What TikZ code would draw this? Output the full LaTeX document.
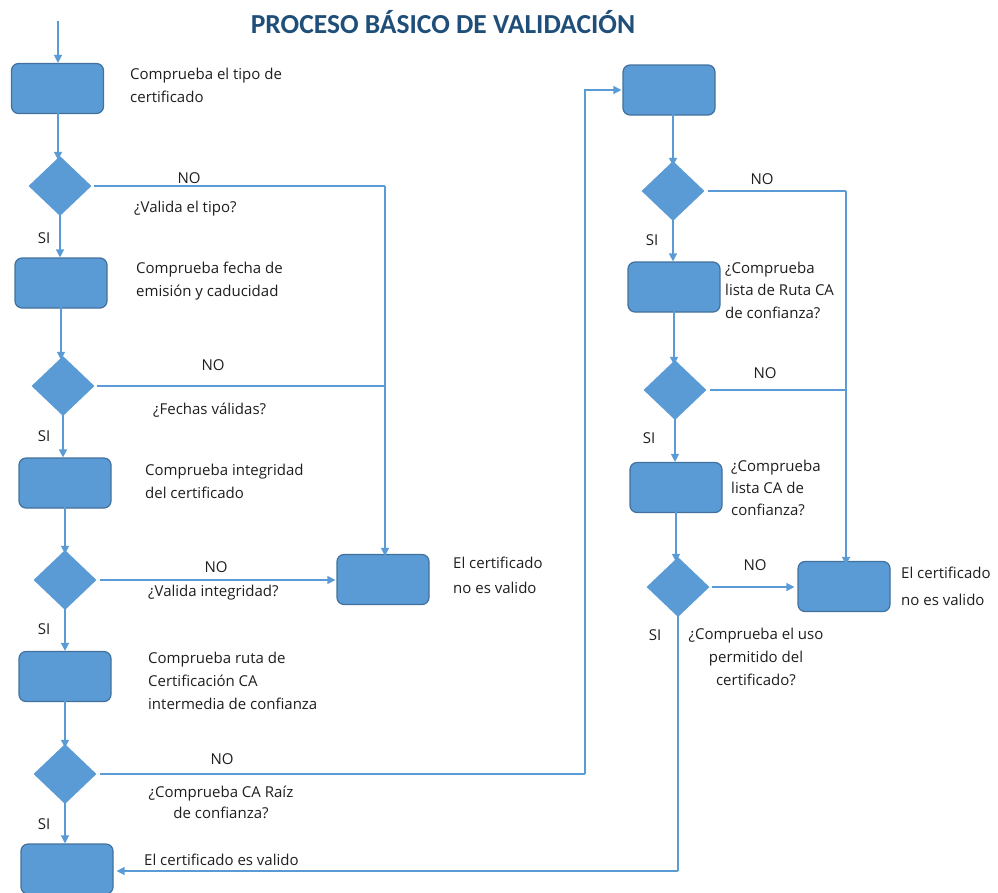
\documentclass[tikz,border=0pt]{standalone}
\usepackage{fontspec}
\setmainfont{Open Sans}
\newfontfamily\titlefont{Carlito}
\usetikzlibrary{shapes.geometric,arrows.meta}
\definecolor{boxfill}{HTML}{5B9BD5}
\definecolor{boxline}{HTML}{41719C}
\definecolor{titleblue}{HTML}{1F4E79}
\definecolor{txt}{HTML}{1E1E1E}
\begin{document}
\begin{tikzpicture}[x=1pt,y=-1pt,
  stepbox/.style={draw=boxline,fill=boxfill,line width=1.2pt,rounded corners=7pt,
    minimum width=92pt,minimum height=50pt,inner sep=0pt},
  decision/.style={diamond,draw=none,fill=boxfill,minimum width=63pt,minimum height=60pt,inner sep=0pt},
  flow/.style={draw=boxfill,line width=1.4pt},
  arr/.style={flow,-{Triangle[length=8pt,width=8pt]}},
  lbl/.style={font=\fontsize{15}{23}\selectfont,text=txt,inner sep=0pt},
  note/.style={lbl,align=left,anchor=base west},
]
\clip (0,0) rectangle (998,892);
\useasboundingbox (0,0) rectangle (998,892);

% title
\node[font=\titlefont\bfseries\fontsize{27.5}{30}\selectfont,text=titleblue] (title) at (443,22) {PROCESO BÁSICO DE VALIDACIÓN};

% ---- left column ----
\coordinate (start) at (58,21);
\node[stepbox] (b1) at (57.5,88.5) {};
\node[decision] (d1) at (60,186) {};
\node[stepbox] (b2) at (61,283) {};
\node[decision] (d2) at (63,386) {};
\node[stepbox] (b3) at (65,483) {};
\node[decision] (d3) at (65,580) {};
\node[stepbox] (b4) at (65,676.5) {};
\node[decision] (d4) at (65,774) {};
\node[stepbox] (b5) at (67,869) {};
\node[stepbox] (nv1) at (383,579.5) {};

% ---- right column ----
\node[stepbox] (r1) at (669,90) {};
\node[decision] (e1) at (673,191) {};
\node[stepbox] (r2) at (674,287) {};
\node[decision] (e2) at (675,390) {};
\node[stepbox] (r3) at (676,487.5) {};
\node[decision] (e3) at (678,587) {};
\node[stepbox] (nv2) at (844,586.5) {};

% corners of the NO lines
\coordinate (j1) at (385,186);
\coordinate (j2) at (846,191);
\coordinate (k1) at (585,774);
\coordinate (k2) at (678,871);

% left column arrows, each one straight down
\draw[arr] (start) -- (b1.north -| start);
\draw[arr] ([yshift=3pt]b1.south -| start) -- ([yshift=-4pt]d1.north -| start);
\draw[arr] ([yshift=2pt]d1.south) -- (d1.south |- b2.north);
\draw[arr] ([yshift=4pt]b2.south) -- ([yshift=-4pt]b2.south |- d2.north);
\draw[arr] ([yshift=2pt]d2.south) -- (d2.south |- b3.north);
\draw[arr] ([yshift=4pt]b3.south) -- ([yshift=-4pt]b3.south |- d3.north);
\draw[arr] ([yshift=2pt]d3.south) -- (d3.south |- b4.north);
\draw[arr] ([yshift=3pt]b4.south) -- ([yshift=-4pt]b4.south |- d4.north);
\draw[arr] ([yshift=2pt]d4.south) -- (d4.south |- b5.north);

% left column NO branches
\draw[flow] ([xshift=2pt]d1.east) -- (j1);
\draw[arr] (j1) -- ([yshift=-2pt]nv1.north -| j1);
\draw[flow] ([xshift=2pt]d2.east) -- (d2.east -| j1);
\draw[arr] ([xshift=3pt]d3.east) -- ([xshift=-1pt]d3.east -| nv1.west);
\draw[flow] ([xshift=3pt]d4.east) -- (k1);
\draw[arr] (k1) |- ([xshift=-1pt]r1.west);

% right column arrows
\draw[arr] ([yshift=5pt]r1.south -| e1.north) -- ([yshift=-5pt]e1.north);
\draw[arr] ([yshift=3pt]e1.south) -- (e1.south |- r2.north);
\draw[arr] ([yshift=5pt]r2.south) -- ([yshift=-5pt]r2.south |- e2.north);
\draw[arr] ([yshift=3pt]e2.south) -- (e2.south |- r3.north);
\draw[arr] ([yshift=5pt]r3.south) -- ([yshift=-5pt]r3.south |- e3.north);

% right column NO branches
\draw[flow] ([xshift=3pt]e1.east) -- (j2);
\draw[arr] (j2) -- ([yshift=-4pt]nv2.north -| j2);
\draw[flow] ([xshift=3pt]e2.east) -- (e2.east -| j2);
\draw[arr] ([xshift=2pt]e3.east) -- ([xshift=-3pt]e3.east -| nv2.west);
\draw[flow] ([yshift=3pt]e3.south) -- (k2);
\draw[arr] (k2) -- ([xshift=3pt]b5.east |- k2);

% box descriptions (placed by the baseline of their last line)
\node[note] (t1) at (130,102) {Comprueba el tipo de\\certificado};
\node[note] (t2) at (136,296) {Comprueba fecha de\\emisión y caducidad};
\node[note] (t3) at (145,498) {Comprueba integridad\\del certificado};
\node[note] (t4) at (148,709) {Comprueba ruta de\\Certificación CA\\intermedia de confianza};
\node[note,font=\fontsize{15}{25}\selectfont] (t5) at (453,593) {El certificado\\no es valido};
\node[note,font=\fontsize{15}{22.5}\selectfont] (t6) at (725,318) {¿Comprueba\\lista de Ruta CA\\de confianza?};
\node[note,font=\fontsize{15}{22}\selectfont] (t7) at (731,515) {¿Comprueba\\lista CA de\\confianza?};
\node[note,font=\fontsize{15}{27}\selectfont] (t8) at (901,605) {El certificado\\no es valido};
\node[lbl,anchor=base west] (t9) at (144,865) {El certificado es valido};

% decision questions
\node[lbl,anchor=base west] (q1) at (134,212) {¿Valida el tipo?};
\node[lbl,anchor=base west] (q2) at (153,414) {¿Fechas válidas?};
\node[lbl,anchor=base west] (q3) at (148,596) {¿Valida integridad?};
\node[lbl,align=center,anchor=base,font=\fontsize{15}{21}\selectfont] (q4) at (221,818) {¿Comprueba CA Raíz\\de confianza?};
\node[lbl,align=center,anchor=base,font=\fontsize{15}{23}\selectfont] (q5) at (756,685) {¿Comprueba el uso\\permitido del\\certificado?};

% branch labels
\node[lbl] (no1) at (189,178) {NO};
\node[lbl] (no2) at (213,365) {NO};
\node[lbl] (no3) at (216,567) {NO};
\node[lbl] (no4) at (222,759) {NO};
\node[lbl] (no5) at (762,179) {NO};
\node[lbl] (no6) at (765,373) {NO};
\node[lbl] (no7) at (755,565) {NO};
\node[lbl] (si1) at (44,238) {SI};
\node[lbl] (si2) at (44,436) {SI};
\node[lbl] (si3) at (44,629) {SI};
\node[lbl] (si4) at (44,824) {SI};
\node[lbl] (si5) at (652,240) {SI};
\node[lbl] (si6) at (649,438) {SI};
\node[lbl] (si7) at (655,635) {SI};
\end{tikzpicture}
\end{document}
